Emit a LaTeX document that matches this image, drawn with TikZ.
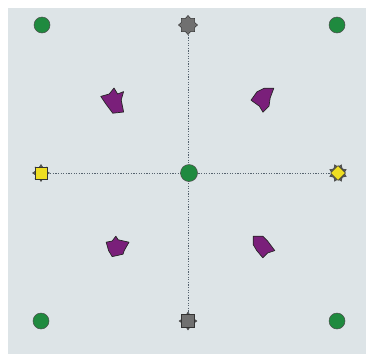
\documentclass[tikz,border=0pt]{standalone}
\usetikzlibrary{shapes.geometric}
\definecolor{panel}{HTML}{DDE4E7}
\definecolor{dotc}{HTML}{56636F}
\definecolor{grn}{HTML}{1F8A3F}
\definecolor{gry}{HTML}{707070}
\definecolor{ylw}{HTML}{EEDD22}
\definecolor{prp}{HTML}{7A1F7A}
\tikzset{
  gdot/.style={circle,fill=grn,draw=black!70,line width=0.5pt,minimum size=16pt,inner sep=0pt},
  gstar/.style={star,star points=8,star point ratio=1.35,fill=gry,draw=black!80,line width=0.5pt,minimum size=19pt,inner sep=0pt},
  backstar/.style={star,star points=8,star point ratio=1.5,fill=black!65,draw=black!80,line width=0.3pt,minimum size=19pt,inner sep=0pt},
  sqbox/.style={rectangle,draw=black!80,line width=0.5pt,minimum size=12pt,inner sep=0pt},
  dmd/.style={diamond,draw=black!80,line width=0.5pt,minimum size=16pt,inner sep=0pt},
  blob/.style={fill=prp,draw=black!85,line width=0.7pt,line join=round},
  dotline/.style={draw=dotc,line width=0.8pt,dash pattern=on 1.2pt off 1.4pt}
}
\begin{document}
\begin{tikzpicture}[x=1pt,y=-1pt]
\useasboundingbox (0,0) rectangle (366,354);
\fill[white] (0,0) rectangle (366,354);
\fill[panel] (8,8) rectangle (366,354);
% anchor points
\coordinate (top) at (188,25);
\coordinate (bot) at (188,321);
\coordinate (lft) at (41,173);
\coordinate (rgt) at (338,173);
% corner and centre circles
\node[gdot] (c1) at (42,25) {};
\node[gdot] (c2) at (337,25) {};
\node[gdot] (c3) at (41,321) {};
\node[gdot] (c4) at (337,321) {};
% gray stars
\node[gstar] (g1) at (top) {};
\node[backstar,minimum size=18pt] (g2b) at (bot) {};
\node[sqbox,fill=gry,minimum size=13pt] (g2) at (bot) {};
% yellow
\node[backstar,minimum size=17pt] (y1b) at (lft) {};
\node[sqbox,fill=ylw,minimum size=12.5pt] (y1) at (lft) {};
\node[backstar,minimum size=18pt,rotate=22.5] (y2b) at (rgt) {};
\node[dmd,fill=ylw,minimum size=15pt] (y2) at (rgt) {};
% connectors
\draw[dotline] (g1) -- (g2);
\draw[dotline] (y1) -- (y2);
\node[gdot,minimum size=17pt] (cc) at (189,173) {};
% purple blobs
\draw[blob,scale around={1.2:(114,100)}] (114,90) -- (117,95) -- (122,93) -- (120,100) -- (122,110) -- (113,111) -- (107,103) -- (103,97) -- (110,95) -- cycle;
\draw[blob,scale around={1.2:(263,99)}] (253,100) -- (258,93) -- (264,90) -- (272,90) -- (269,98) -- (268,105) -- (263,110) -- (260,105) -- cycle;
\draw[blob,scale around={1.2:(117,247)}] (108,243) -- (113,242) -- (116,238) -- (118,241) -- (127,243) -- (123,250) -- (122,253) -- (113,255) -- (110,250) -- cycle;
\draw[blob,scale around={1.2:(264,247)}] (255,238) -- (263,238) -- (267,242) -- (273,250) -- (267,252) -- (263,256) -- (258,250) -- (255,245) -- cycle;
\end{tikzpicture}
\end{document}
